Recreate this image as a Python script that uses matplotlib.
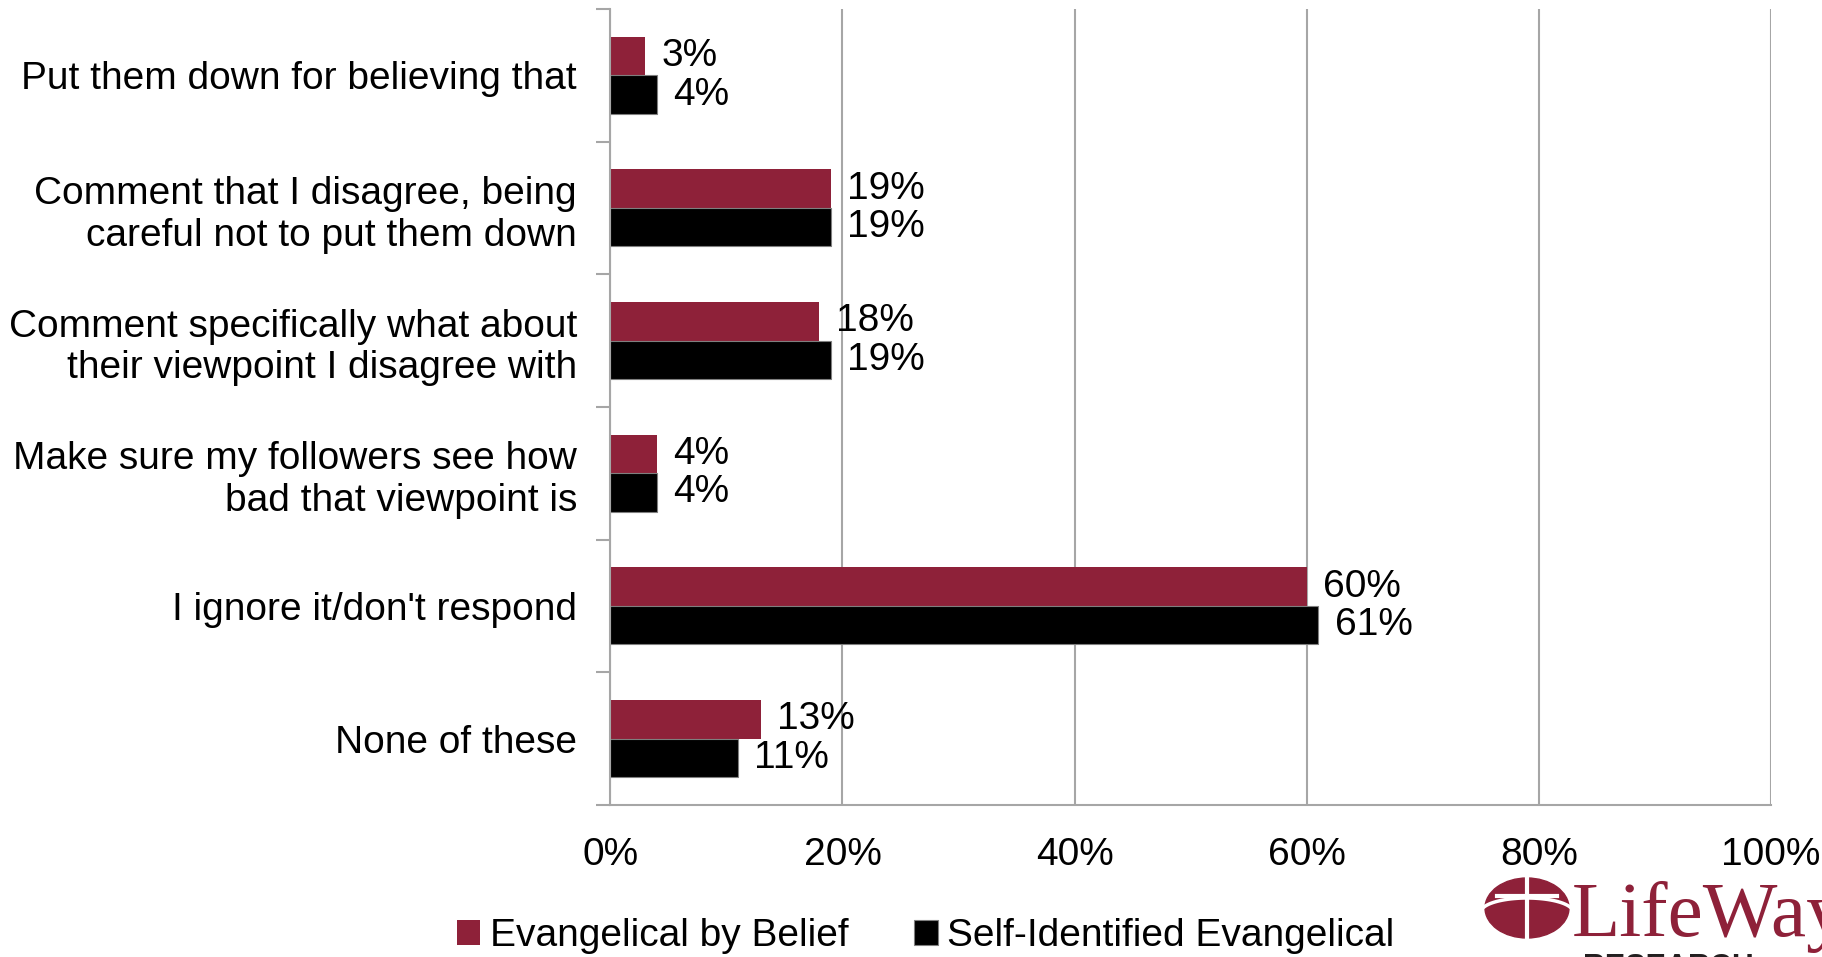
import matplotlib.pyplot as plt
from matplotlib.patches import Ellipse
import numpy as np

plt.rcParams['font.family'] = ['Liberation Sans', 'DejaVu Sans']

categories = [
    "Put them down for believing that",
    "Comment that I disagree, being\ncareful not to put them down",
    "Comment specifically what about\ntheir viewpoint I disagree with",
    "Make sure my followers see how\nbad that viewpoint is",
    "I ignore it/don't respond",
    "None of these",
]
belief = [3, 19, 18, 4, 60, 13]
self_identified = [4, 19, 19, 4, 61, 11]
series_names = ["Evangelical by Belief", "Self-Identified Evangelical"]
xticks = [0, 20, 40, 60, 80, 100]

red = '#8e2139'
grid_gray = '#a6a6a6'
fs = 28

fig = plt.figure(figsize=(18.22, 9.57), dpi=100)
ax = fig.add_axes([0.335, 0.159, 0.637, 0.8316])

y = np.arange(len(categories))
h = 0.29
b1 = ax.barh(y - h / 2, belief, height=h, color=red, label=series_names[0])
b2 = ax.barh(y + h / 2, self_identified, height=h, color='black',
             edgecolor='#7f7f7f', linewidth=0.8, label=series_names[1])

for bars, vals in ((b1, belief), (b2, self_identified)):
    for bar, v in zip(bars, vals):
        ax.text(v + 1.4, bar.get_y() + bar.get_height() / 2, f"{v}%",
                va='center', ha='left', fontsize=fs)

ax.set_ylim(len(categories) - 0.5, -0.5)
ax.set_xlim(0, 100)
ax.set_yticks(y)
ax.set_yticklabels(categories, fontsize=fs, ha='right', multialignment='right')
ax.tick_params(axis='y', length=0, pad=24)
ax.set_yticks(np.arange(-0.5, len(categories)), minor=True)
ax.tick_params(axis='y', which='minor', length=10, width=1.5, color=grid_gray)

ax.set_xticks(xticks)
ax.set_xticklabels([f"{t}%" for t in xticks], fontsize=fs)
ax.tick_params(axis='x', length=0, pad=23)

ax.grid(axis='x', color=grid_gray, linewidth=1.5)
ax.set_axisbelow(True)
for s in ('top', 'right'):
    ax.spines[s].set_visible(False)
for s in ('left', 'bottom'):
    ax.spines[s].set_color(grid_gray)
    ax.spines[s].set_linewidth(1.5)

fig.legend(handles=[b1, b2], loc='center', bbox_to_anchor=(0.508, 0.022),
           ncol=2, frameon=False, fontsize=fs, handlelength=0.6,
           handleheight=0.6, handletextpad=0.25, columnspacing=1.7)

# logo in the lower right corner
lax = fig.add_axes([0, 0, 1, 1], zorder=5)
lax.set_xlim(0, 1822)
lax.set_ylim(957, 0)
lax.axis('off')
lax.add_patch(Ellipse((1527, 908), 84, 60, color=red))
lax.plot([1527, 1527], [878, 938], color='white', lw=3)
lax.plot([1497, 1557], [896, 896], color='white', lw=3)
t = np.linspace(0.2, 2.9, 40)
lax.plot(1527 + 46 * np.cos(t), 906 - 14 * np.sin(t) + 6, color='white', lw=2.5)
lax.text(1572, 936, "LifeWay", fontsize=57, color=red,
         family=['Liberation Serif', 'DejaVu Serif'], va='baseline', ha='left')
lax.text(1583, 953, "RESEARCH", fontsize=22, fontweight='bold', color='#231f20',
         va='top', ha='left')

fig.savefig('out.png', dpi=100)
